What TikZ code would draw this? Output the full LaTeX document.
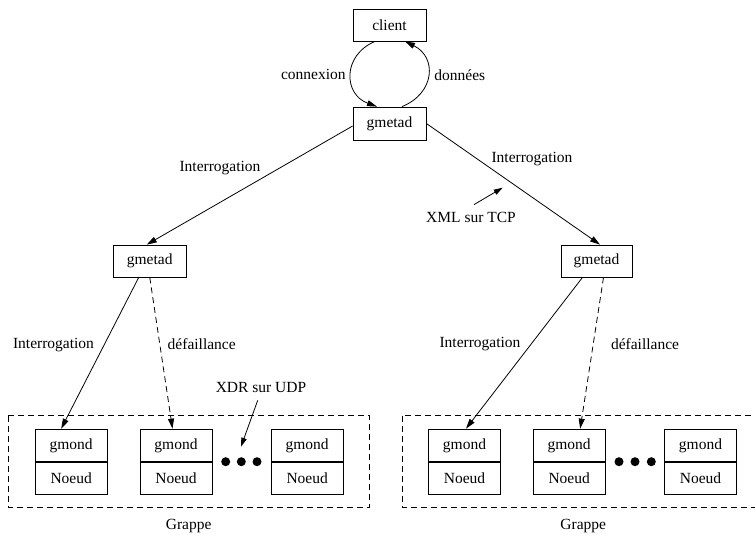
\documentclass[tikz,border=0pt]{standalone}
\usepackage{fontspec}
\setmainfont{Liberation Serif}
\usepackage{tikz}
\usetikzlibrary{arrows.meta, positioning, calc}
\tikzset{
    box/.style={rectangle, draw, line width=0.8pt, minimum width=72pt, minimum height=32pt, inner sep=0pt, font=\fontsize{15.5pt}{18pt}\selectfont},
    half/.style={rectangle, draw, line width=0.8pt, minimum width=72pt, minimum height=32.5pt, inner sep=0pt, font=\fontsize{15.5pt}{18pt}\selectfont},
    lbl/.style={inner sep=0pt, font=\fontsize{15.5pt}{18pt}\selectfont},
    tip/.style={line width=0.8pt, -{Triangle[length=10pt, width=6pt]}},
    fail/.style={tip, dash pattern=on 6pt off 4pt},
    cluster/.style={draw, line width=0.8pt, dash pattern=on 6pt off 4pt}
}

\begin{document}
\begin{tikzpicture}[x=1pt, y=1pt]
    \useasboundingbox (0,0) rectangle (755,-536);
    \clip (0,0) rectangle (755,-536);

    % Top: client and gmetad
    \node[box, minimum width=73pt] (client) at (389.5,-25) {client};
    \node[box, minimum width=73pt, minimum height=33pt] (gt) at (389.5,-123.5) {gmetad};
    \draw[tip] ([xshift=-14.5pt]client.south) to[out=203, in=160, looseness=1.4] node[lbl, left=5pt] {connexion} ([xshift=-12.5pt]gt.north);
    \draw[tip] ([xshift=12.5pt]gt.north) to[out=22, in=-26, looseness=1.4] node[lbl, right=6pt] {données} ([xshift=15.5pt]client.south);

    % Second level gmetad
    \node[box, minimum width=72.5pt] (lg) at (149.75,-261) {gmetad};
    \node[box, minimum width=71pt] (rg) at (596.5,-261) {gmetad};
    \draw[tip] ([yshift=-2.5pt]gt.west) -- ([xshift=-3pt]lg.north);
    \draw[tip] (gt.east) -- ([xshift=3.5pt]rg.north);
    \node[lbl] (iqa) at (220,-168) {Interrogation};
    \node[lbl] (iqb) at (532,-159) {Interrogation};

    % XML sur TCP
    \node[lbl] (xml) at (471,-217) {XML sur TCP};
    \coordinate (xmlend) at (502.7,-187.7);
    \draw[tip, -{Triangle[length=9pt, width=5.5pt]}] ([shift={(3pt,7pt)}]xml.north) -- (xmlend);

    % Left cluster
    \draw[cluster] (8.3,-415.7) rectangle (369.3,-507.3);
    \foreach \i/\x in {1/71.2, 2/176, 3/307.2} {
        \node[half] (lm\i) at (\x,-445.3) {gmond};
        \node[half, below=0pt of lm\i] (ln\i) {Noeud};
    }
    \foreach \x in {225.7, 241.3, 257} \fill (\x,-461.7) circle (4.5pt);
    \node[lbl] (lgr) at (188.7,-526) {Grappe};

    % Right cluster
    \draw[cluster] (402.3,-415.7) rectangle (765,-507.3);
    \foreach \i/\x in {1/464.5, 2/569.2, 3/700.5} {
        \node[half] (rm\i) at (\x,-445.3) {gmond};
        \node[half, below=0pt of rm\i] (rn\i) {Noeud};
    }
    \foreach \x in {619, 635, 651.3} \fill (\x,-461.7) circle (4.5pt);
    \node[lbl] (rgr) at (583.3,-526) {Grappe};

    % Links to the clusters
    \draw[tip] ([xshift=-11pt]lg.south) -- ([xshift=-10pt]lm1.north);
    \draw[fail] (lg.south) -- ([xshift=-3.5pt]lm2.north);
    \draw[tip] ([xshift=-14pt]rg.south) -- ([xshift=1.5pt]rm1.north);
    \draw[fail] ([xshift=7pt]rg.south) -- ([xshift=11pt]rm2.north);
    \node[lbl] (iqc) at (53.5,-345) {Interrogation};
    \node[lbl] (dfa) at (201.7,-344) {défaillance};
    \node[lbl] (iqd) at (480,-344) {Interrogation};
    \node[lbl] (dfb) at (645,-344) {défaillance};

    % XDR sur UDP
    \node[lbl] (xdr) at (261,-387) {XDR sur UDP};
    \coordinate (xdrend) at (241,-446.7);
    \draw[tip, -{Triangle[length=9pt, width=5.5pt]}] ([shift={(-3.3pt,-8pt)}]xdr.south) -- (xdrend);
\end{tikzpicture}
\end{document}
